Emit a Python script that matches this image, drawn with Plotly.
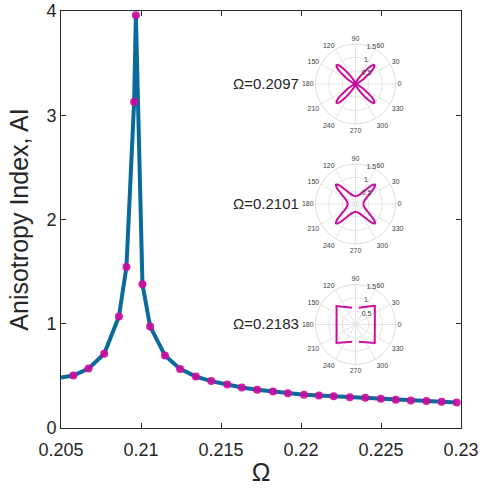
import numpy as np
import plotly.graph_objects as go

# ---------------- data ----------------
omega_line_start = 0.205
ai_line_start = 0.484

omega = [0.20577, 0.20672, 0.20770, 0.20862, 0.20909, 0.20957, 0.20968, 0.21009,
         0.21057, 0.21150, 0.21244, 0.21343, 0.21439, 0.21539, 0.21630, 0.21726,
         0.21825, 0.21917, 0.22019, 0.22112, 0.22204, 0.22305, 0.22402, 0.22499,
         0.22592, 0.22686, 0.22784, 0.22879, 0.22973]
ai = [0.503, 0.570, 0.712, 1.07, 1.545, 3.13, 3.96, 1.38,
      0.974, 0.695, 0.567, 0.493, 0.450, 0.418, 0.388, 0.368,
      0.349, 0.333, 0.320, 0.312, 0.305, 0.296, 0.291, 0.280,
      0.272, 0.264, 0.260, 0.251, 0.244]

x_ticks = [0.205, 0.21, 0.215, 0.22, 0.225, 0.23]
x_ticklabels = ["0.205", "0.21", "0.215", "0.22", "0.225", "0.23"]
y_ticks = [0, 1, 2, 3, 4]

inset_labels = ["Ω=0.2097", "Ω=0.2101", "Ω=0.2183"]
ang_ticks = [0, 30, 60, 90, 120, 150, 180, 210, 240, 270, 300, 330]
rad_ticks = [0.5, 1, 1.5]

# polar profiles: angle offset from arm direction (deg) and radius
arm_dirs = [45, 135, 225, 315]
p1_phi = [0, 2, 4, 6, 8, 10, 13, 17, 22, 30, 45]
p1_r = [1.0, 0.97, 0.9, 0.8, 0.65, 0.5, 0.36, 0.22, 0.12, 0.04, 0.0]
p2_phi = [0, 2, 4, 6, 8, 11, 15, 20, 26, 34, 45]
p2_r = [1.03, 1.0, 0.93, 0.83, 0.72, 0.6, 0.49, 0.41, 0.35, 0.31, 0.29]
# shape 3: outline vertices (x, y) in radius units, None = gap
p3_x = [0.125, 0.625, 0.725, 0.725, 0.72, 0.125, None, -0.125, -0.71, -0.71, -0.125]
p3_y = [0.625, 0.69, 0.69, 0.04, -0.69, -0.65, None, -0.65, -0.69, 0.69, 0.625]

MAG = "#CC0C9E"
BLUE = "#0A6A9C"
FONT = "Liberation Sans, Arial, Helvetica, sans-serif"


def build_arms(phi, r):
    th, rr = [], []
    phi = np.array(phi, float)
    r = np.array(r, float)
    for c in arm_dirs:
        th += list(c - phi[::-1]) + list(c + phi[1:])
        rr += list(r[::-1]) + list(r[1:])
    th.append(th[0])
    rr.append(rr[0])
    return th, rr


fig = go.Figure()

fig.add_trace(go.Scatter(x=[omega_line_start] + omega, y=[ai_line_start] + ai,
                         mode="lines", line=dict(color=BLUE, width=4),
                         showlegend=False, hoverinfo="skip"))
fig.add_trace(go.Scatter(x=omega, y=ai, mode="markers",
                         marker=dict(color=MAG, size=8, opacity=0.92),
                         showlegend=False))

th1, r1 = build_arms(p1_phi, p1_r)
th2, r2 = build_arms(p2_phi, p2_r)
th3, r3 = [], []
for x, y in zip(p3_x, p3_y):
    if x is None:
        th3.append(None)
        r3.append(None)
    else:
        th3.append(float(np.degrees(np.arctan2(y, x))))
        r3.append(float(np.hypot(x, y)))

for name, th, rr in [("polar", th1, r1), ("polar2", th2, r2), ("polar3", th3, r3)]:
    fig.add_trace(go.Scatterpolar(theta=th, r=rr, mode="lines",
                                  line=dict(color=MAG, width=2),
                                  subplot=name, showlegend=False,
                                  connectgaps=False))

# layout
W, H = 483, 491
ml, mr, mt, mb = 61, 22, 11, 63
pw, ph = W - ml - mr, H - mt - mb


def px2paper(px, py):
    return (px - ml) / pw, (H - mb - py) / ph


centers = [(355.5, 84), (355.5, 204), (355.5, 324.5)]
rad = 40
polar_layouts = {}
for i, (cx, cy) in enumerate(centers):
    x0, y0 = px2paper(cx - rad, cy + rad)
    x1, y1 = px2paper(cx + rad, cy - rad)
    key = "polar" if i == 0 else f"polar{i+1}"
    polar_layouts[key] = dict(
        domain=dict(x=[x0, x1], y=[y0, y1]),
        bgcolor="rgba(0,0,0,0)",
        angularaxis=dict(rotation=0, direction="counterclockwise",
                         tickmode="array", tickvals=ang_ticks,
                         ticktext=[str(a) for a in ang_ticks],
                         tickfont=dict(size=7, color="#404040", family=FONT),
                         gridcolor="#e4e4e4", linecolor="#dcdcdc", ticks="",
                         showline=True),
        radialaxis=dict(range=[0, 1.5], tickmode="array", tickvals=rad_ticks,
                        ticktext=["0.5", "1", "1.5"], angle=80, tickangle=80,
                        tickfont=dict(size=7, color="#404040", family=FONT),
                        gridcolor="#e4e4e4", showline=False, ticks=""),
    )

annotations = []
for (cx, cy), lab in zip(centers, inset_labels):
    ax, ay = px2paper(301, cy - 1)
    annotations.append(dict(x=ax, y=ay, xref="paper", yref="paper", text=lab,
                            showarrow=False, xanchor="right", yanchor="middle",
                            font=dict(size=15, color="#262626", family=FONT)))

fig.update_layout(
    width=W, height=H,
    margin=dict(l=ml, r=mr, t=mt, b=mb),
    paper_bgcolor="white", plot_bgcolor="white",
    font=dict(family=FONT, color="#262626"),
    xaxis=dict(range=[0.205, 0.23], tickvals=x_ticks, ticktext=x_ticklabels,
               ticks="inside", ticklen=5, tickcolor="#262626",
               showline=True, linecolor="#262626", linewidth=1, mirror="allticks",
               showgrid=False, zeroline=False, ticklabelstandoff=5,
               automargin=False,
               tickfont=dict(size=18, family=FONT, color="#262626"),
               title=dict(text="Ω", font=dict(size=25, family=FONT, color="#262626"),
                          standoff=4)),
    yaxis=dict(range=[0, 4], tickvals=y_ticks,
               ticks="inside", ticklen=5, tickcolor="#262626",
               showline=True, linecolor="#262626", linewidth=1, mirror="allticks",
               showgrid=False, zeroline=False, automargin=False,
               tickfont=dict(size=18, family=FONT, color="#262626"),
               title=dict(text="Anisotropy Index, AI",
                          font=dict(size=25, family=FONT, color="#262626"),
                          standoff=10)),
    annotations=annotations,
    **polar_layouts,
)

fig.write_html("out.html")
